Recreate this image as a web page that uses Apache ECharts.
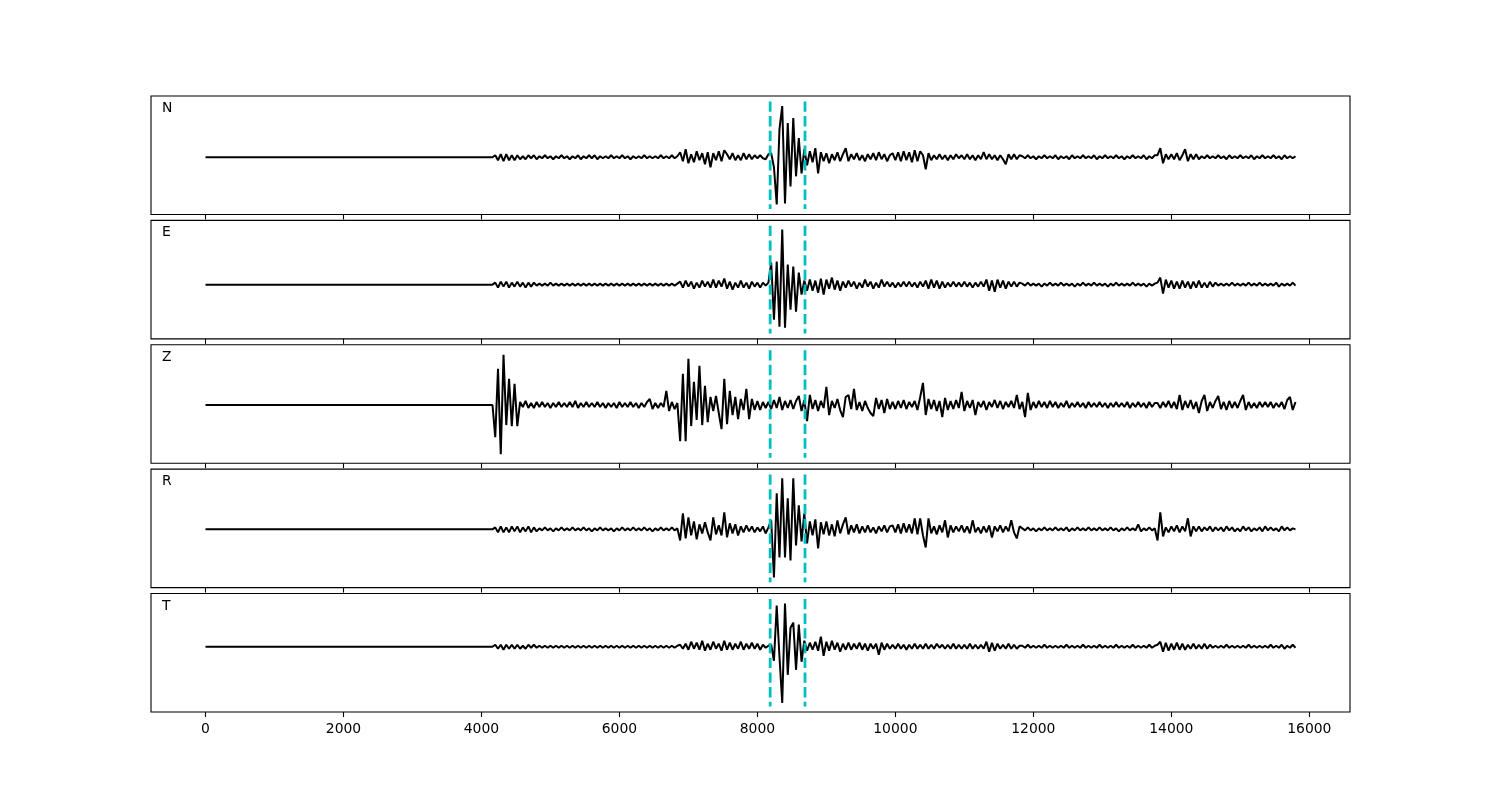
<!DOCTYPE html>
<html>
<head>
<meta charset="utf-8">
<script src="https://cdn.jsdelivr.net/npm/echarts@6/dist/echarts.min.js"></script>
<style>html,body{margin:0;padding:0;background:#fff;}#c{width:1500px;height:800px;}</style>
</head>
<body>
<div id="c"></div>
<script>
// Component names (one panel each)
const traceNames = ['N', 'E', 'Z', 'R', 'T'];
// Samples: quiet until t0, then one sample every dt (amplitudes, arbitrary units)
const t0 = 4160;
const dt = 40;
const tEndQuietStart = 0;
const pickTimes = [8185, 8690];
const xTickValues = [0, 2000, 4000, 6000, 8000, 10000, 12000, 14000, 16000];
const yRanges = [[-57, 61], [-54, 64], [-58, 60], [-58, 60], [-65, 53]];

const traceN = [
0,
2,-3,3,-4,3,-3,2,-3,
2,-2,1,-2,2,-1,2,-2,1,-1,2,-1,
1,-2,1,-1,2,-1,1,-2,1,-1,2,-2,1,-1,2,-1,2,-2,1,-1,
1,-1,2,-1,1,-1,2,-1,1,-2,1,-1,1,-1,2,-1,1,-1,1,-1,2,-1,1,-1,2,-1,1,
5,-4,8,-6,3,-5,6,-3,4,-7,5,-10,4,-3,6,-4,7,
3,-2,4,-3,2,-3,4,-2,3,-2,2,-1,2,-1,-2,
3,4,-10,-47,28,51,-46,34,-29,39,-19,19,-16,8,-8,
6,-5,9,-16,5,-4,4,-6,3,-3,5,-4,3,9,-4,3,-2,4,-3,2,-4,3,-2,4,-3,5,-2,3,-4,2,
4,-3,5,-4,6,-3,5,-5,7,-4,6,2,-12,4,
-3,2,-2,3,-2,2,-3,2,-2,3,-1,2,-2,3,-2,2,-3,2,-2,5,-2,3,-2,2,-3,2,-2,-7,3,-2,3,-2,2,
1,-1,2,-1,1,-2,1,-1,2,-1,1,-1,2,-2,1,-1,1,-2,2,-1,1,-1,2,-1,1,-1,2,-2,1,-1,2,-1,1,-1,2,-1,1,-2,1,-1,2,-1,1,-1,2,-2,1,-1,2,
2,9,-6,3,-2,3,-2,4,-3,2,8,-4,3,-2,3,-2,
1,-1,2,-1,1,-1,2,-1,1,-2,2,-1,1,-1,2,-1,1,-1,2,-2,1,-1,2,-1,1,-1,2,-1,1,-2,2,-1,1,-1,1
];

const traceE = [
0,
2,-3,3,-2,3,-3,2,-2,3,-2,2,-3,2,-2,2,-1,
1,-1,1,-1,2,-1,1,-1,1,-1,1,-1,1,-1,1,-1,1,-1,1,-1,1,-1,1,-1,1,-1,1,-1,1,-1,1,-1,1,-1,1,-1,1,-1,1,-1,1,-1,1,-1,1,-1,1,-1,1,-1,1,
3,-3,4,-2,3,-4,2,-3,4,-2,3,-3,5,-3,4,-2,6,-4,3,-5,2,-3,4,-3,2,-4,3,-2,2,-3,2,-1,
2,22,-35,23,-42,55,-43,20,-25,18,-27,12,-10,4,-6,
5,-6,4,-8,6,-10,5,-4,7,-5,4,-6,3,-3,4,-2,3,-4,2,-3,5,-2,3,-4,2,-3,5,-2,3,-2,
2,-3,2,-2,3,-2,3,-2,2,-3,3,-2,
4,-4,5,-3,4,-4,3,-3,2,-2,3,-2,2,-2,3,-2,2,-3,
2,-2,3,-2,5,-6,4,-7,5,-3,4,-4,3,-2,3,-2,2,
1,-1,2,-1,1,-1,1,-2,1,-1,2,-1,1,-1,2,-1,1,-1,1,-2,1,-1,2,-1,1,-1,2,-1,1,-1,1,-2,1,-1,2,-1,1,-1,1,-1,2,-1,1,-1,1,-2,1,-1,1,
2,7,-9,5,-3,4,-4,3,-4,4,-3,3,-4,3,-3,4,-3,2,-3,3,-2,2,-1,
1,-1,1,-1,2,-1,1,-1,1,-1,2,-1,1,-1,2,-1,1,-1,1,-1,2,-2,1,-1,1,-1,2,-1
];

const traceZ = [
0,
-32,36,-49,50,-20,26,-21,21,-21,
3,-2,4,-3,2,-3,3,-2,3,-2,2,-3,2,-2,3,-2,2,-2,3,-2,4,-3,2,-2,3,-2,2,-2,3,-2,
2,-3,2,-2,2,-3,3,-2,2,-2,3,-2,2,-3,2,-2,3,6,-4,2,-3,2,-2,14,-6,3,-4,2,
-36,31,-36,46,-21,23,-15,39,-20,19,-17,8,-6,9,-8,-24,26,-19,14,-10,8,-14,6,-5,16,-14,6,-5,4,-5,3,-3,
3,-4,5,-3,8,-5,4,-3,5,-4,4,9,-6,5,-16,10,-4,5,-6,4,-3,18,-10,4,-3,6,-5,-12,8,10,-4,16,-5,3,-6,4,-3,-8,-11,7,-4,5,-8,6,-4,
3,-4,4,-3,5,-4,3,-2,4,-5,8,
22,-10,6,-4,5,-6,4,-12,7,-5,4,-4,5,-3,13,-6,4,-3,5,-10,3,-2,4,-5,3,-2,5,-3,4,-4,3,-2,4,-3,10,-4,
3,-12,12,-5,3,-3,4,-2,3,-3,4,-2,3,-3,2,-2,4,-3,2,-2,3,-2,2,-3,3,-2,2,-2,3,-2,2,-3,2,-2,3,-2,2,-2,3,-3,2,-2,3,-2,2,-3,3,-2,2,
2,-3,3,-2,4,-3,3,-4,10,-5,
4,-3,5,-4,3,-8,4,10,-6,3,
-3,4,9,-4,3,-5,4,-3,3,-3,
4,10,-5,3,-3,2,-3,3,-2,3,
-2,3,-3,2,-2,3,-4,5,8,-5,3
];

const traceR = [
0,
2,-3,3,-3,2,-3,3,-2,3,-3,2,-2,3,-3,2,-2,
1,-1,2,-1,1,-2,1,-1,2,-1,1,-1,2,-1,1,-1,2,-1,1,-2,1,-1,2,-1,1,-1,1,-2,1,-1,2,-1,1,-1,2,-1,1,-1,2,-1,1,-2,1,-1,2,-1,1,-1,2,-1,1,
-11,16,-9,12,-6,8,-10,5,-4,7,-3,-11,12,-5,4,-6,17,-8,6,-4,5,-6,3,-3,4,-2,3,-3,2,-2,3,-4,
2,9,-48,36,-28,51,-28,31,-31,51,-16,24,-12,16,-14,
8,-6,10,-19,7,-5,8,-6,5,-7,9,-4,5,12,-5,4,-3,5,-4,3,-3,4,-3,2,-4,3,-2,4,-3,3,
4,-3,5,-4,6,-3,5,-4,11,-5,11,-6,-18,11,
-4,3,-5,4,-3,9,-8,4,-3,3,-2,4,-3,3,-4,9,-3,2,-4,3,-3,4,-8,3,-2,4,-3,3,-2,9,-3,-9,3,
1,-1,2,-1,1,-2,1,-1,2,-1,1,-1,2,-1,1,-1,2,-2,1,-1,2,-1,1,-1,2,-1,1,-1,2,-1,1,-1,2,-1,1,-2,1,-1,2,-1,1,-1,5,-2,1,-1,2,-1,1,
-11,17,-7,2,-3,3,-2,4,-3,3,-2,11,-7,3,-2,3,
-2,2,-1,3,-2,2,-1,2,-2,3,-1,2,-2,1,-2,3,-1,2,-2,1,-1,2,-2,3,-1,2,-1,1,-2,3,-1,2,-1,1,0
];

const traceT = [
0,
2,-2,2,-3,2,-2,2,-2,2,-2,1,-2,2,-1,2,-1,
1,-1,1,-1,1,-1,1,-1,1,-1,1,-1,1,-1,1,-1,1,-1,1,-1,1,-1,1,-1,1,-1,1,-1,1,-1,1,-1,1,-1,1,-1,1,-1,1,-1,1,-1,1,-1,1,-1,1,-1,1,-1,1,
2,-2,3,-3,5,-2,4,-3,6,-4,3,-3,5,-2,3,-4,6,-3,4,-3,3,-2,5,-3,3,-2,4,-2,3,-3,2,-1,
1,2,-14,41,-10,-56,43,-28,19,24,-23,22,-15,6,-4,
4,-3,5,-4,10,-9,5,-4,6,-3,4,-5,3,-3,4,-3,3,-2,4,-3,3,-4,3,-2,3,-8,4,-3,3,-2,
2,-2,3,-2,2,-3,2,-2,3,-2,2,-2,3,-2,2,-2,3,-1,2,-2,2,-2,3,-2,2,-2,2,-2,3,-2,2,-2,2,-2,5,-5,4,-4,3,-2,2,-2,3,-2,2,-2,1,
1,-1,2,-1,1,-1,1,-1,2,-1,1,-1,1,-1,1,-1,2,-1,1,-1,1,-1,2,-1,1,-1,1,-1,2,-1,1,-1,1,-1,2,-1,1,-1,1,-1,2,-1,1,-1,1,-1,2,-1,1,
2,5,-5,4,-4,3,-3,4,-3,3,-3,2,-2,3,-2,2,-2,3,-2,2,
-1,1,-1,1,-1,2,-1,1,-1,1,-1,1,-1,2,-1,1,-1,1,-1,1,-1,2,-1,1,-1,2,-2,1,-1,2,-1
];

const traces = [traceN, traceE, traceZ, traceR, traceT];

// ---- layout ----
const FONT = 'DejaVu Sans';
const gridLeft = 151, gridWidth = 1199, gridH = 118.46, gap = 5.92, firstTop = 96;
const xMin = -790, xMax = 16590;

const grids = [], xAxes = [], yAxes = [], series = [], graphics = [];
traces.forEach((vals, k) => {
  const top = firstTop + k * (gridH + gap);
  grids.push({left: gridLeft, top: top, width: gridWidth, height: gridH, show: true,
    borderColor: '#000', borderWidth: 1.1, backgroundColor: 'transparent', containLabel: false});
  const isLast = k === traces.length - 1;
  xAxes.push({type: 'value', gridIndex: k, min: xMin, max: xMax,
    axisLine: {show: false, onZero: false},
    axisTick: {show: true, inside: false, length: 5, customValues: xTickValues, lineStyle: {color: '#000', width: 1.1}},
    axisLabel: {show: isLast, customValues: xTickValues, color: '#000', fontSize: 13.9, fontFamily: FONT, margin: 10,
      formatter: v => String(v)},
    splitLine: {show: false}});
  const [ylo, yhi] = yRanges[k];
  yAxes.push({type: 'value', gridIndex: k, min: ylo, max: yhi,
    axisLine: {show: false}, axisTick: {show: false}, axisLabel: {show: false}, splitLine: {show: false}});
  const data = [[tEndQuietStart, 0]].concat(vals.map((v, i) => [t0 + i * dt, v]));
  series.push({type: 'line', xAxisIndex: k, yAxisIndex: k, data: data, showSymbol: false, symbol: 'none',
    lineStyle: {color: '#000', width: 2}, silent: true, animation: false, z: 2});
  const span = yhi - ylo;
  const lo = ylo + span * 0.0455, hi = yhi - span * 0.0455;
  pickTimes.forEach(p => {
    series.push({type: 'line', xAxisIndex: k, yAxisIndex: k, data: [[p, hi], [p, lo]], showSymbol: false, symbol: 'none',
      lineStyle: {color: '#00bfbf', width: 2.8, type: [10.3, 4.4]}, silent: true, animation: false, z: 3});
  });
  graphics.push({type: 'text', left: 162, top: top + 5.5, style: {text: traceNames[k], fill: '#000', fontSize: 13.9, fontFamily: FONT}});
});

const chart = echarts.init(document.getElementById('c'), null, {renderer: 'canvas'});
chart.setOption({
  backgroundColor: '#fff',
  animation: false,
  grid: grids, xAxis: xAxes, yAxis: yAxes, series: series, graphic: graphics
});
</script>
</body>
</html>
